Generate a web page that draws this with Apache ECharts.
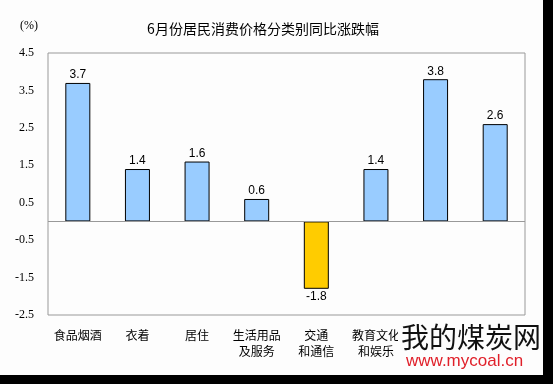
<!DOCTYPE html>
<html><head><meta charset="utf-8">
<script src="https://cdn.jsdelivr.net/npm/echarts@6/dist/echarts.min.js"></script>
<style>html,body{margin:0;padding:0;background:#fdfdfd}#c{width:553px;height:384px}</style>
</head><body><div id="c"></div>
<script>
const categories = ['食品烟酒','衣着','居住','生活用品\n及服务','交通\n和通信','教育文化\n和娱乐','医疗保健','其他用品\n和服务'];
const values = [3.7, 1.4, 1.6, 0.6, -1.8, 1.4, 3.8, 2.6];
const yTicks = [-2.5, -1.5, -0.5, 0.5, 1.5, 2.5, 3.5, 4.5];
const title = '6月份居民消费价格分类别同比涨跌幅';

const chart = echarts.init(document.getElementById('c'), null, {renderer:'canvas'});
const cjk = '"Noto Sans CJK SC", sans-serif';
chart.setOption({
  backgroundColor: '#fdfdfd',
  animation: false,
  title: {text: title, left: 258, top: 17, textAlign: 'center',
    textStyle: {fontFamily: cjk, fontSize: 14, fontWeight: 'normal', color: '#000'}},
  grid: {left: 48, right: 28, top: 53, bottom: 69, show: true, borderColor: '#999', borderWidth: 1, backgroundColor: 'transparent'},
  xAxis: {type: 'category', data: categories,
    axisLine: {show: false, onZero: false}, axisTick: {show: false},
    axisLabel: {fontFamily: cjk, fontSize: 12, color: '#000', margin: 12, lineHeight: 16, interval: 0}},
  yAxis: {type: 'value', min: yTicks[0], max: yTicks[yTicks.length-1], interval: 1,
    splitLine: {show: false}, axisLine: {show: false}, axisTick: {show: false},
    axisLabel: {fontFamily: '"Liberation Serif", "Times New Roman", serif', fontSize: 12, color: '#000', margin: 14,
      formatter: v => v.toFixed(1)}},
  graphic: [
    {type: 'text', left: 20, top: 20, style: {text: '(%)', font: '12px "Liberation Serif", serif', fill: '#000'}},
    {type: 'rect', z: 99, shape: {x: 398, y: 322, width: 145, height: 53}, style: {fill: '#fdfdfd'}},
    {type: 'text', left: 401, top: 323, z: 100, style: {text: '我的煤炭网', font: '28px "Noto Sans CJK SC"', fill: '#111'}},
    {type: 'text', left: 406, top: 353, z: 100, style: {text: 'www.mycoal.cn', font: '17px "Liberation Sans", sans-serif', fill: '#e0202a'}},
    {type: 'rect', z: 100, shape: {x: 543, y: 0, width: 10, height: 384}, style: {fill: '#000'}},
    {type: 'rect', z: 100, shape: {x: 0, y: 375, width: 553, height: 9}, style: {fill: '#000'}}
  ],
  series: [{
    type: 'bar', barWidth: 25,
    data: values.map(v => ({value: v,
      itemStyle: {color: v < 0 ? '#FFCC00' : '#99CCFF'},
      label: v < 0 ? {position: 'bottom'} : {}})),
    itemStyle: {borderColor: '#000', borderWidth: 1},
    label: {show: true, position: 'top', fontFamily: '"Liberation Sans", Arial, sans-serif', fontSize: 12, color: '#000', distance: 2,
      formatter: p => p.value.toFixed(1)},
    markLine: {silent: true, symbol: 'none', label: {show: false},
      lineStyle: {color: '#999', type: 'solid', width: 1}, data: [{yAxis: 0}]}
  }]
});
</script></body></html>
